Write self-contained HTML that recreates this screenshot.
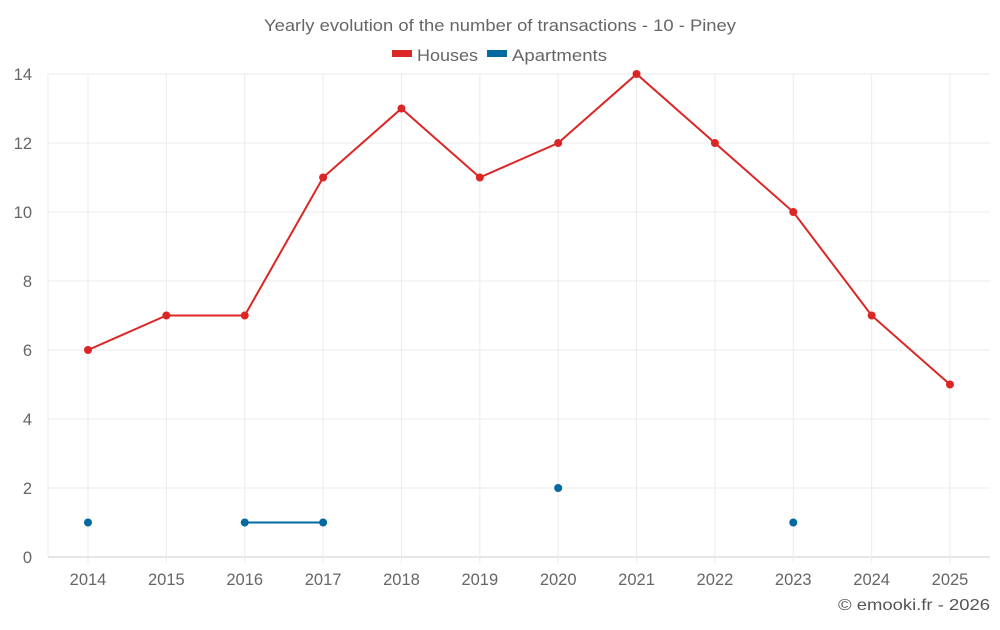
<!DOCTYPE html>
<html><head><meta charset="utf-8"><style>
body{margin:0;background:#fff;font-family:"Liberation Sans",sans-serif}
svg text{font-family:"Liberation Sans",sans-serif}
</style></head><body>
<svg id="chart" width="1000" height="625">
<text x="264" y="31" font-size="16.5" fill="#666" textLength="472" lengthAdjust="spacingAndGlyphs">Yearly evolution of the number of transactions - 10 - Piney</text>
<g>
<g><rect x="392" y="50" width="20" height="7" fill="#dc2626"/><text x="417" y="61" font-size="17" fill="#666" textLength="61" lengthAdjust="spacingAndGlyphs">Houses</text></g>
<g><rect x="487" y="50" width="20" height="7" fill="#0369a1"/><text x="512" y="61" font-size="17" fill="#666" textLength="95" lengthAdjust="spacingAndGlyphs">Apartments</text></g>
</g>
<g id="grid"></g><g id="axes"></g><g id="series"></g>
<text x="838" y="610" font-size="16" fill="#555" textLength="152" lengthAdjust="spacingAndGlyphs">© emooki.fr - 2026</text>
</svg>
<script>
const years=["2014","2015","2016","2017","2018","2019","2020","2021","2022","2023","2024","2025"];
const houses=[6,7,7,11,13,11,12,14,12,10,7,5];
const apartments=[1,null,1,1,null,null,2,null,null,1,null,null];
const yTicks=[0,2,4,6,8,10,12,14];
const NS="http://www.w3.org/2000/svg";
const L=48,R=990,T=74,B=557,yMax=14;
const step=(950-88)/11;
function x(i){return 88+i*step;}
function y(v){return B-(v/yMax)*(B-T);}
function mk(tag,attrs,parent){const e=document.createElementNS(NS,tag);for(const k in attrs)e.setAttribute(k,attrs[k]);parent.appendChild(e);return e;}
const grid=document.getElementById('grid'),axes=document.getElementById('axes'),ser=document.getElementById('series');
yTicks.forEach(v=>{
 const g=mk('line',{x1:L,x2:R,y1:y(v),y2:y(v),stroke:v===0?'#ccc':'#ebebeb'},grid);
 
 
 const t=mk('text',{x:32,y:y(v)+6,'text-anchor':'end','font-size':16.5,fill:'#666'},axes);
 t.textContent=v;
 
 
});
years.forEach((yr,i)=>{
 const g=mk('line',{x1:x(i),x2:x(i),y1:T,y2:B+6,stroke:'#ebebeb'},grid);
 
 
 const t=mk('text',{x:x(i),y:585,'text-anchor':'middle','font-size':16.5,fill:'#666'},axes);
 t.textContent=yr;
 
 
});
mk('line',{x1:L,x2:L,y1:T,y2:B,stroke:'#ebebeb'},grid);
function draw(data,color,name){
 let segs=[],cur=[];
 data.forEach((v,i)=>{if(v==null){if(cur.length)segs.push(cur);cur=[];}else cur.push([x(i),y(v)]);});
 if(cur.length)segs.push(cur);
 segs.forEach(s=>{if(s.length>1){const p=mk('polyline',{points:s.map(q=>q.join(',')).join(' '),fill:'none',stroke:color,'stroke-width':2},ser);
 
 }});
 data.forEach((v,i)=>{if(v==null)return;const c=mk('circle',{cx:x(i),cy:y(v),r:4,fill:color},ser);
 
 });
}
draw(houses,'#dc2626','houses');
draw(apartments,'#0369a1','apartments');
</script>
</body></html>
